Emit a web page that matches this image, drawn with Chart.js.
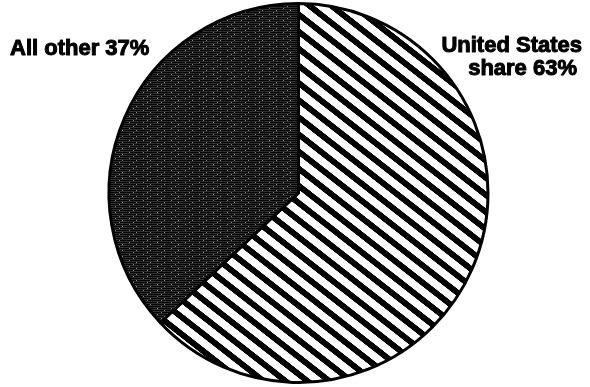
<!DOCTYPE html>
<html>
<head>
<meta charset="utf-8">
<script src="https://cdn.jsdelivr.net/npm/chart.js@4/dist/chart.umd.min.js"></script>
<style>
  html, body { margin: 0; padding: 0; background: #fff; }
  #c { display: block; }
</style>
</head>
<body>
<canvas id="c" width="590" height="387"></canvas>
<script>
// ---- data ----
const categories = ['United States share', 'All other'];
const values = [63, 37];
const labelLines = [['United States', 'share 63%'], ['All other 37%']];

// ---- fill patterns ----
function makeHatch() {
  const t = document.createElement('canvas');
  t.width = 2; t.height = 27;
  const c = t.getContext('2d');
  c.fillStyle = '#fff'; c.fillRect(0, 0, 2, 27);
  c.fillStyle = '#000'; c.fillRect(0, 0, 2, 12);
  const p = c.createPattern(t, 'repeat');
  p.setTransform(new DOMMatrix().rotate(38).scale(0.5));
  return p;
}
function makeDark() {
  const t = document.createElement('canvas');
  t.width = 14; t.height = 6;
  const c = t.getContext('2d');
  for (let y = 0; y < 6; y++) {
    c.fillStyle = (y % 2 === 0) ? '#000000' : '#303030';
    c.fillRect(0, y, 14, 1);
  }
  c.fillStyle = '#8a8a8a';
  c.fillRect(3, 2, 1, 1);
  c.fillRect(10, 4, 1, 1);
  c.fillRect(7, 0, 1, 1);
  return c.createPattern(t, 'repeat');
}

const labelPlugin = {
  id: 'sliceLabels',
  afterDraw(chart) {
    const ctx = chart.ctx;
    ctx.save();
    ctx.fillStyle = '#000';
    ctx.strokeStyle = '#000';
    ctx.lineWidth = 1.0;
    ctx.lineJoin = 'round';
    ctx.font = 'bold 22px "Liberation Sans", Arial, sans-serif';
    ctx.textBaseline = 'alphabetic';
    // United States label (right aligned, top right)
    ctx.textAlign = 'right';
    const us = labelLines[0];
    const usX = [582, 577];
    const usY = [52, 75];
    us.forEach((s, i) => { ctx.fillText(s, usX[i], usY[i]); ctx.strokeText(s, usX[i], usY[i]); });
    // All other label (top left)
    ctx.textAlign = 'left';
    const ot = labelLines[1];
    ot.forEach((s, i) => { ctx.fillText(s, 10, 55 + i * 23); ctx.strokeText(s, 10, 55 + i * 23); });
    ctx.restore();
  }
};

new Chart(document.getElementById('c'), {
  type: 'pie',
  data: {
    labels: categories,
    datasets: [{
      data: values,
      backgroundColor: [makeHatch(), makeDark()],
      borderColor: '#000',
      borderWidth: 3,
      radius: 189.5
    }]
  },
  options: {
    responsive: false,
    animation: false,
    layout: { padding: { left: 7, right: 0, top: 0, bottom: 1 } },
    plugins: {
      legend: { display: false },
      tooltip: { enabled: false },
      title: { display: false }
    }
  },
  plugins: [labelPlugin]
});
</script>
</body>
</html>
